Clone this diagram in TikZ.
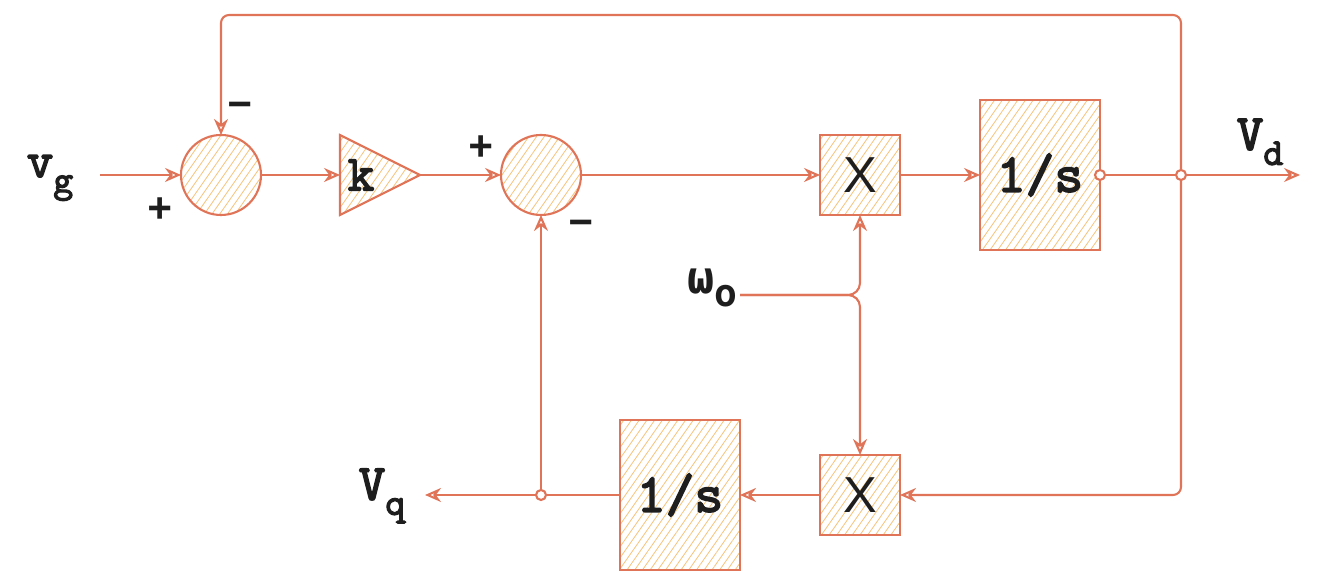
\documentclass[tikz,border=0pt]{standalone}
\usepackage{fontspec}
\setmainfont{Liberation Mono}
\newfontfamily\boxfont{Liberation Sans}
\newfontfamily\greekfont{DejaVu Sans Mono}
\newfontfamily\slabbold[Extension=.otf,FakeBold=3]{lmmono10-regular}
\usepackage{tikz}
\usetikzlibrary{arrows.meta}
\usetikzlibrary{shapes.geometric}
\usetikzlibrary{patterns.meta}

\definecolor{line_red}{HTML}{E07458}
\definecolor{hatch_orange}{HTML}{F5C47E}
\definecolor{ink}{HTML}{1E1E1E}

\newcommand{\lowidx}[2]{#1\raisebox{-0.3em}{\fontsize{27}{27}\selectfont #2}}

\begin{document}
\begin{tikzpicture}[line width=1.5pt,
        hatch/.style={pattern={Lines[angle=55,distance=4.5pt,line width=0.6pt]},pattern color=hatch_orange},
        sum_style/.style={circle,draw=line_red,hatch,minimum size=2cm,inner sep=0pt,outer sep=0pt},
        gain_style/.style={isosceles triangle,isosceles triangle stretches,shape border rotate=0,draw=line_red,hatch,minimum width=2cm,minimum height=2cm,inner sep=0pt,outer sep=0pt,anchor=west},
        mult_style/.style={rectangle,draw=line_red,hatch,minimum width=2cm,minimum height=2cm,inner sep=0pt,outer sep=0pt,font=\boxfont\fontsize{36}{40}\selectfont,text=ink},
        integ_style/.style={rectangle,draw=line_red,hatch,minimum width=3cm,minimum height=3.75cm,inner sep=0pt,outer sep=0pt,font=\slabbold\fontsize{39}{44}\selectfont,text=ink},
        dot_style/.style={circle,draw=line_red,fill=white,minimum size=0.25cm,inner sep=0pt,outer sep=0pt},
        label_style/.style={font=\slabbold\fontsize{36}{40}\selectfont,text=ink},
        sign_style/.style={font=\bfseries\fontsize{30}{36}\selectfont,text=ink},
        edge_style/.style={draw=line_red,-{Stealth[open,length=0.4cm,width=0.35cm]}},
        wire_style/.style={draw=line_red}]

        \useasboundingbox (0,0) rectangle (33,14.3);

        \node [label_style] (vg) at (1.25,9.85) {\lowidx{v}{g}};

        \coordinate (vg_in) at (2.5,9.925);

        \node [sum_style] (s1) at (5.525,9.925) {};

        \node [sign_style] (s1_plus) at (4.0,9.05) {+};

        \node [sign_style] (s1_minus) at (6.0,11.55) {−};

        \node [gain_style] (g1) at (8.5,9.925) {};

        \node [label_style] (g1_k) at (9.025,9.925) {k};

        \node [sum_style] (s2) at (13.525,9.925) {};

        \node [sign_style] (s2_plus) at (12.025,10.6) {+};

        \node [sign_style] (s2_minus) at (14.525,8.6) {−};

        \node [mult_style] (x1) at (21.5,9.925) {X};

        \node [integ_style] (i1) at (26,9.925) {1/s};

        \node [dot_style] (i1_out) at (i1.east) {};

        \node [dot_style] (jd) at (29.525,9.925) {};

        \coordinate (vd_out) at (32.5,9.925);

        \node [label_style] (vd) at (31.5,10.75) {\lowidx{V}{d}};

        \coordinate (top) at (17.5,13.925);

        \node [label_style,font=\greekfont\bfseries\fontsize{32}{40}\selectfont] (w) at (17.8,7.1) {\lowidx{ω}{o}};

        \coordinate (w_in) at (18.5,6.925);

        \node [mult_style] (x2) at (21.5,1.925) {X};

        \node [integ_style] (i2) at (17,1.925) {1/s};

        \node [dot_style] (jq) at (13.525,1.925) {};

        \coordinate (vq_out) at (10.625,1.925);

        \node [label_style] (vq) at (9.55,1.9) {\lowidx{V}{q}};

        % forward path
        \draw [edge_style] (vg_in) -- (s1);

        \draw [edge_style] (s1) -- (g1);

        \draw [edge_style] (g1.apex) -- (s2);

        \draw [edge_style] (s2) -- (x1);

        \draw [edge_style] (x1) -- (i1);

        \draw [wire_style] (i1_out) -- (jd);

        \draw [edge_style] (jd) -- (vd_out);

        % feedback paths
        \draw [edge_style, rounded corners=0.2cm] (jd) |- (top) -| (s1);

        \draw [edge_style, rounded corners=0.2cm] (jd) |- (x2);

        \draw [edge_style] (x2) -- (i2);

        \draw [wire_style] (i2) -- (jq);

        \draw [edge_style] (jq) -- (vq_out);

        \draw [edge_style] (jq) -- (s2);

        % frequency input
        \draw [edge_style, rounded corners=0.3cm] (w_in) -| (x1);

        \draw [edge_style, rounded corners=0.3cm] (w_in) -| (x2);

        \end{tikzpicture}
\end{document}
